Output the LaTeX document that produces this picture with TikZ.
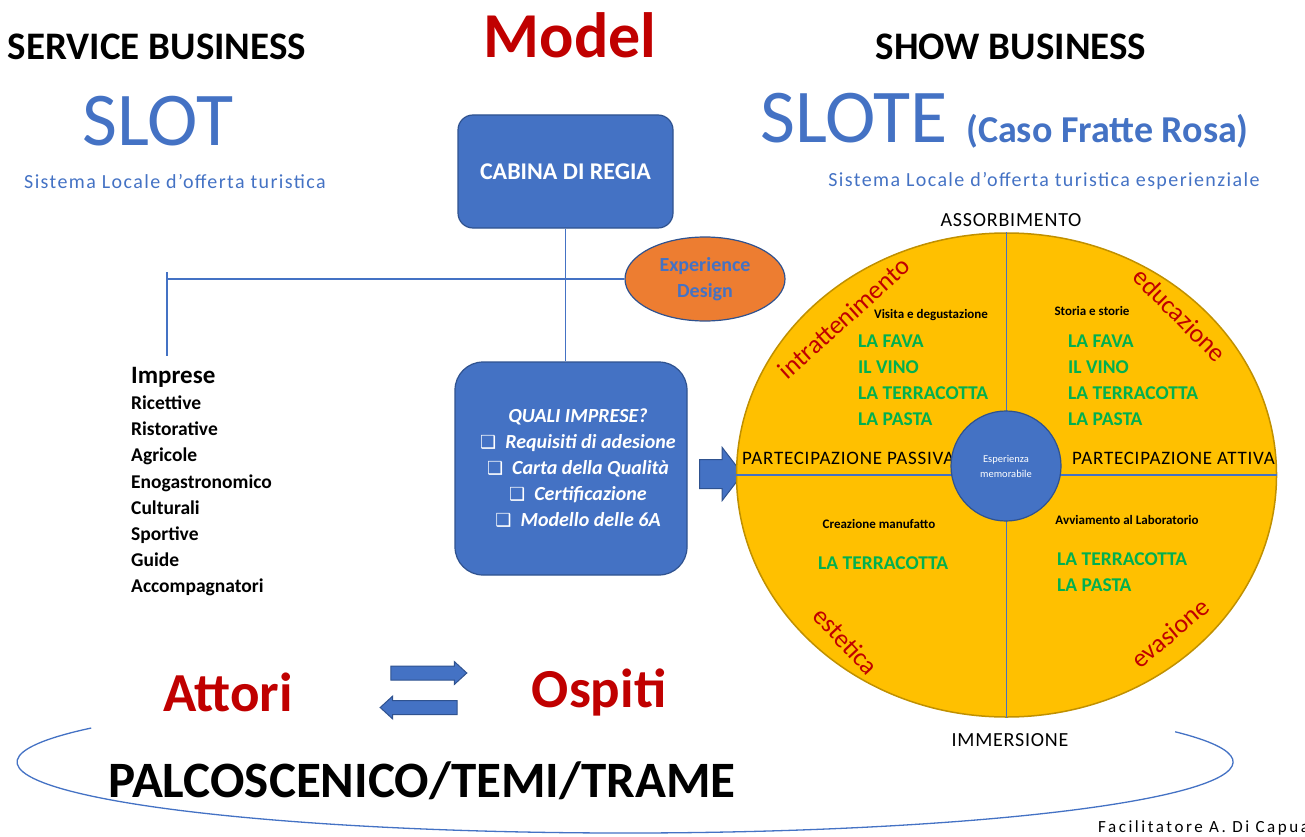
\documentclass[tikz,border=0pt]{standalone}
\usepackage{fontspec}
\setmainfont{Carlito}
\newfontfamily\boxfont{DejaVu Sans}
\usetikzlibrary{shapes.geometric,shapes.arrows}
\definecolor{blu}{HTML}{4472C4}
\definecolor{blubordo}{HTML}{2F528F}
\definecolor{rosso}{HTML}{C00000}
\definecolor{verde}{HTML}{00B050}
\definecolor{oro}{HTML}{FFC000}
\definecolor{orobordo}{HTML}{C09000}
\definecolor{arancio}{HTML}{ED7D31}
\newcommand{\fsz}[2]{\fontsize{#1}{#2}\selectfont}
\newcommand{\casella}{{\boxfont\fsz{18}{18}❑}\hspace{9pt}}
\newcommand{\spaziato}[1]{\addfontfeature{LetterSpace=#1}}

\begin{document}
\begin{tikzpicture}[x=1pt,y=-1pt,inner sep=0pt,
  titolo/.style={anchor=base,font=\bfseries\fsz{39}{39}},
  sigla/.style={anchor=base,text=blu,font=\fsz{76}{76}},
  sottotitolo/.style={anchor=base,text=blu,font=\fsz{20}{20}\spaziato{7}},
  box/.style={draw=blubordo,fill=blu,line width=1.2pt,rounded corners=#1},
  linea/.style={draw=blu,line width=1.3pt},
  asse/.style={draw=blu,line width=1.5pt},
  polo/.style={anchor=base,font=\fsz{20}{20}\spaziato{4}},
  partecipa/.style={anchor=west,font=\fsz{19}{19}\spaziato{4}},
  esperienza/.style={text=rosso,font=\fsz{26}{26}},
  attivita/.style={font=\bfseries\fsz{13}{13}},
  prodotti/.style={anchor=west,text=verde,align=left,font=\bfseries\fsz{19.5}{26}},
  frecciona/.style={single arrow,draw=blubordo,fill=blu,line width=1pt}]
  \useasboundingbox (0,0) rectangle (1305,837);

  \node[titolo]                    (service)    at (157,60)    {SERVICE BUSINESS};
  \node[titolo]                    (show)       at (1011,60)   {SHOW BUSINESS};
  \node[titolo,text=rosso,font=\bfseries\fsz{64}{64}]
                                   (model)      at (570,58)    {Model};
  \node[sigla]                     (slot)       at (158,146)   {SLOT};
  \node[sigla,anchor=base west]    (slote)      at (760,143)   {SLOTE};
  \node[anchor=base west,text=blu,font=\bfseries\fsz{38}{38}]
                                   (caso)       at (966,143)   {(Caso Fratte Rosa)};
  \node[sottotitolo]               (sistema)    at (175,189)   {Sistema Locale d’offerta turistica};
  \node[sottotitolo]               (sistemaesp) at (1044,186)  {Sistema Locale d’offerta turistica esperienziale};

  \node[box=15,minimum width=215,minimum height=113,text=white,font=\bfseries\fsz{24}{24}]
                                   (cabina)     at (565.5,171.5) {CABINA DI REGIA};
  \node[box=28,minimum width=232,minimum height=213]
                                   (quali)      at (571,468.5) {};
  \node[text=white,align=center,font=\bfseries\itshape\fsz{20}{26}]
                                   (requisiti)  at (578,468)   {QUALI IMPRESE?\\
                                   \casella Requisiti di adesione\\
                                   \casella Carta della Qualità\\
                                   \casella Certificazione\\
                                   \casella Modello delle 6A};

  \coordinate (snodo)      at (167,279);
  \coordinate (snodoalto)  at (167,272);
  \coordinate (snodobasso) at (167,356);
  \draw[linea] (cabina.south) -- (cabina.south |- quali.north);
  \draw[linea] (snodoalto)    -- (snodobasso);
  \node[ellipse,draw=blubordo,fill=arancio,line width=1.2pt,minimum width=160,minimum height=84,
        text=blu,align=center,font=\bfseries\fsz{20}{26}]
                                   (design)     at (705,279)   {Experience\\Design};
  \draw[linea] (snodo)        -- (design.west);

  \node[anchor=base west,font=\bfseries\fsz{25}{25}]
                                   (imprese)    at (131,383)   {Imprese};
  \node[anchor=west,align=left,font=\bfseries\fsz{19.5}{26.2}]
                                   (settori)    at (131,496)   {Ricettive\\Ristorative\\Agricole\\Enogastronomico\\
                                                                Culturali\\Sportive\\Guide\\Accompagnatori};

  \node[frecciona,minimum height=43,text height=28,text depth=0,single arrow head extend=12,
        single arrow tip angle=105] (avanti) at (715.5,474) {};

  \node[ellipse,draw=orobordo,fill=oro,line width=1.5pt,minimum width=540,minimum height=484]
                                   (cerchio)    at (1006.5,475) {};
  \draw[asse] (cerchio.west)  -- (cerchio.east);
  \draw[asse] (cerchio.north) -- (cerchio.south);
  \node[polo]                      (assorb)     at (1011,226)  {ASSORBIMENTO};
  \node[polo]                      (immers)     at (1010,746)  {IMMERSIONE};
  \node[partecipa]                 (passiva)    at (742,458)   {PARTECIPAZIONE PASSIVA};
  \node[partecipa]                 (attiva)     at (1072,458)  {PARTECIPAZIONE ATTIVA};

  \node[esperienza,rotate=42]      (intratt)    at (844,318)   {intrattenimento};
  \node[esperienza,rotate=-45]     (educ)       at (1180,315)  {educazione};
  \node[esperienza,rotate=-47]     (estetica)   at (846,641)   {estetica};
  \node[esperienza,rotate=40]      (evasione)   at (1170,633)  {evasione};

  \node[attivita]                  (visita)     at (931,315)   {Visita e degustazione};
  \node[attivita]                  (storia)     at (1092,311)  {Storia e storie};
  \node[attivita]                  (creazione)  at (879,524)   {Creazione manufatto};
  \node[attivita]                  (avvio)      at (1127,520)  {Avviamento al Laboratorio};
  \node[prodotti]                  (prodvisita) at (858,380)   {LA FAVA\\IL VINO\\LA TERRACOTTA\\LA PASTA};
  \node[prodotti]                  (prodstoria) at (1068,380)  {LA FAVA\\IL VINO\\LA TERRACOTTA\\LA PASTA};
  \node[prodotti]                  (prodcrea)   at (818,563)   {LA TERRACOTTA};
  \node[prodotti]                  (prodavvio)  at (1057,572)  {LA TERRACOTTA\\LA PASTA};

  \node[circle,draw=blubordo,fill=blu,line width=1.2pt,minimum size=110,text=white,align=center,
        font=\fsz{10.5}{15}]      (centro)     at (1006,466)  {Esperienza\\memorabile};

  \node[anchor=base,text=rosso,font=\bfseries\fsz{55}{55}]
                                   (attori)     at (228,711)   {Attori};
  \node[anchor=base,text=rosso,font=\bfseries\fsz{55}{55}]
                                   (ospiti)     at (599,707)   {Ospiti};
  \node[frecciona,minimum height=76,text height=13,text depth=0,single arrow head extend=4.5,
        single arrow tip angle=85] (versoospiti) at (425,673) {};
  \node[frecciona,minimum height=77,text height=13,text depth=0,single arrow head extend=4.5,
        single arrow tip angle=85,shape border rotate=180] (versoattori) at (422.5,707.5) {};

  \coordinate (palco) at (625,762);
  \draw[linea] ([shift={(-25.2:608 and 71)}]palco) arc[start angle=-25.2,end angle=208.6,x radius=608,y radius=71];
  \node[anchor=base,font=\bfseries\fsz{51}{51}]
                                   (temi)       at (422,797)   {PALCOSCENICO/TEMI/TRAME};
  \node[anchor=base west,font=\fsz{17}{17}\spaziato{15}]
                                   (facilitatore) at (1098,832) {Facilitatore A. Di Capua};
\end{tikzpicture}
\end{document}
